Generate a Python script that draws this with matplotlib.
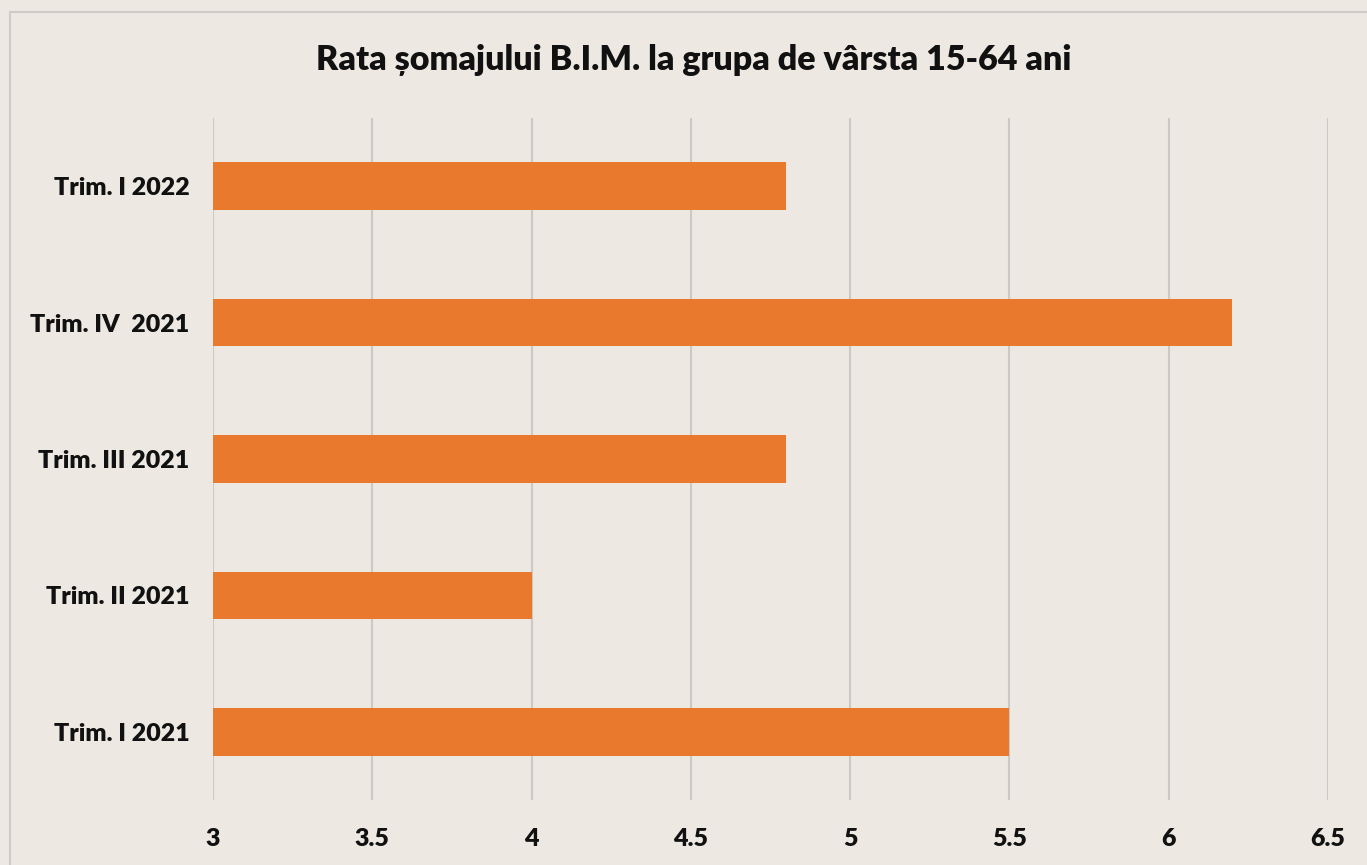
import matplotlib
matplotlib.use("Agg")
import matplotlib.pyplot as plt
from matplotlib.patches import Rectangle

categories = ["Trim. I 2021", "Trim. II 2021", "Trim. III 2021", "Trim. IV  2021", "Trim. I 2022"]
values = [5.5, 4.0, 4.8, 6.2, 4.8]
xticks = [3, 3.5, 4, 4.5, 5, 5.5, 6, 6.5]
xtick_labels = ["3", "3.5", "4", "4.5", "5", "5.5", "6", "6.5"]
title = "Rata șomajului B.I.M. la grupa de vârsta 15-64 ani"

bg = "#EDE8E2"
bar_color = "#E9792D"
grid_color = "#CCC8C3"
font = ["Lato", "DejaVu Sans"]

fig = plt.figure(figsize=(13.67, 8.65), dpi=100, facecolor=bg)
ax = fig.add_axes([213/1367, 65/865, (1328-213)/1367, (800-118)/865])
ax.set_facecolor(bg)

y = list(range(len(categories)))
ax.barh(y, [v - 3 for v in values], left=3, height=0.35, color=bar_color, zorder=3)

ax.set_xlim(3, 6.5)
ax.set_ylim(-0.5, len(categories) - 0.5)
ax.set_xticks(xticks)
ax.set_xticklabels(xtick_labels, fontfamily=font, fontweight="heavy", fontsize=18)
ax.set_yticks(y)
ax.set_yticklabels(categories, fontfamily=font, fontweight="heavy", fontsize=18)
ax.tick_params(axis="both", length=0, colors="#111111")
ax.tick_params(axis="y", pad=17)
ax.tick_params(axis="x", pad=20)
ax.xaxis.grid(True, color=grid_color, linewidth=1.5, zorder=0)
for s in ax.spines.values():
    s.set_visible(False)

fig.text(694/1367, 1 - 60/865, title, ha="center", va="center",
         fontfamily=font, fontweight="heavy", fontsize=24.5, color="#111111")

fig.patches.append(Rectangle((10/1367, -0.05), 1.1, 1 - 12/865 + 0.05,
                             transform=fig.transFigure, fill=False,
                             edgecolor="#CFCBC6", linewidth=1.5))

fig.savefig("out.png", dpi=100, facecolor=bg)
